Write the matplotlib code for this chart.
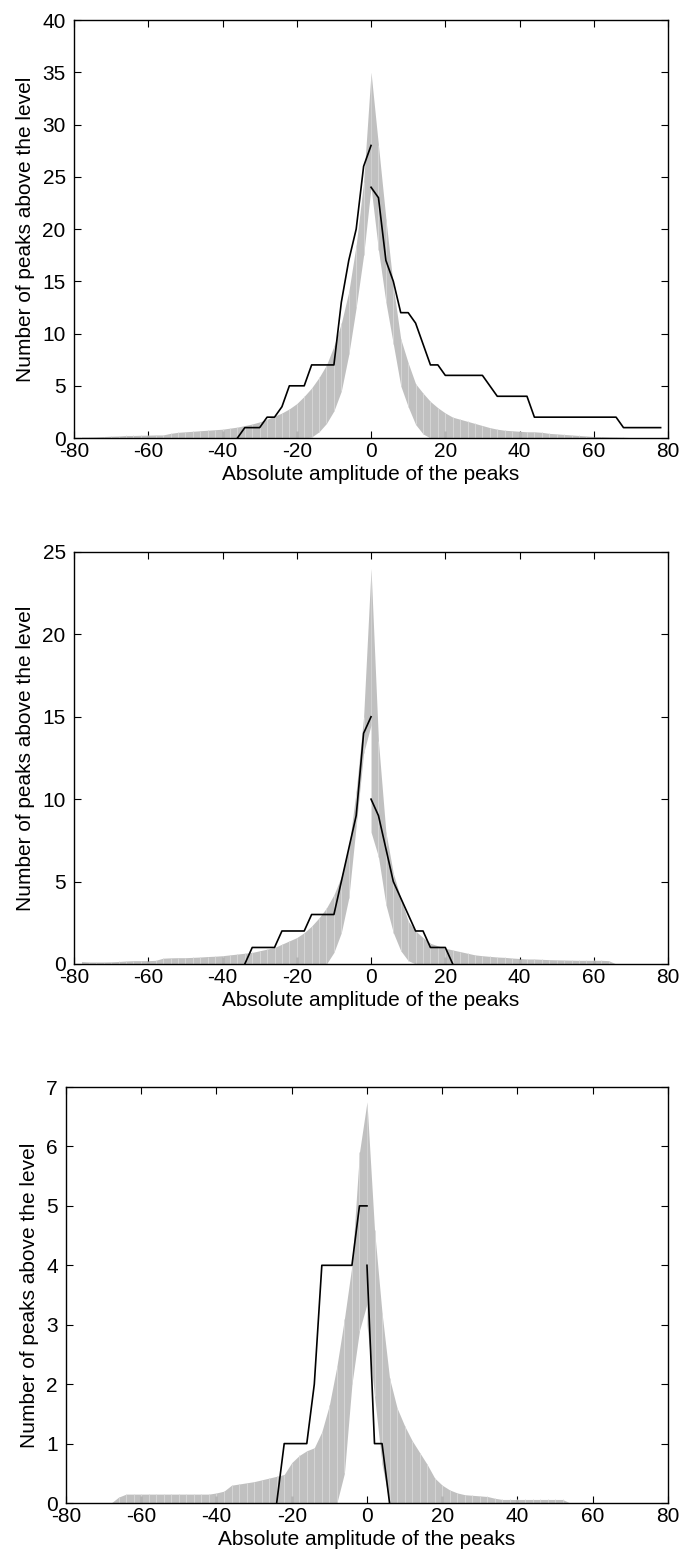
import numpy as np
import matplotlib
matplotlib.use("Agg")
from matplotlib import pyplot as plt

plt.rcParams['font.family'] = ['Liberation Sans', 'DejaVu Sans']
plt.rcParams['axes.unicode_minus'] = False

# amplitude grid of the envelopes (left side ends at 0, right side starts at 0)
x_neg = np.arange(-78, 1, 2)
x_pos = np.arange(0, 79, 2)

# panel 1 envelopes
p1_neg_up = [0.1, 0.1, 0.12, 0.15, 0.18, 0.2, 0.25, 0.25, 0.27, 0.28,
             0.3, 0.3, 0.45, 0.55, 0.6, 0.65, 0.7, 0.75, 0.8, 0.85,
             0.95, 1.05, 1.2, 1.35, 1.55, 1.8, 2.1, 2.4, 2.8, 3.3,
             4.0, 4.8, 5.8, 7.0, 8.8, 11.0, 14.0, 18.5, 24.5, 35.0]
p1_neg_lo = [0]*31 + [0.1, 0.6, 1.4, 2.6, 4.5, 8.0, 12.5, 17.5, 24.0]
p1_pos_up = [35, 28, 21, 14.5, 9.5, 7.2, 5.2, 4.3, 3.5, 2.9,
             2.4, 2.0, 1.8, 1.6, 1.4, 1.2, 1.0, 0.85, 0.75, 0.7,
             0.65, 0.6, 0.6, 0.55, 0.45, 0.4, 0.35, 0.3, 0.25, 0.2,
             0.15, 0.15, 0.12, 0.1, 0.08, 0.05, 0.03, 0.0, 0.0, 0.05]
p1_pos_lo = [24, 18, 13, 9, 5, 3, 1.3, 0.4] + [0]*32

# panel 1 observed counts
p1_neg_x = [-36, -34, -30, -28, -26, -24, -22, -18, -16, -10, -8, -6, -4, -2, 0]
p1_neg_y = [0, 1, 1, 2, 2, 3, 5, 5, 7, 7, 13, 17, 20, 26, 28]
p1_pos_x = [0, 2, 4, 6, 8, 10, 12, 16, 18, 20, 30, 34, 42, 44, 66, 68, 78]
p1_pos_y = [24, 23, 17, 15, 12, 12, 11, 7, 7, 6, 6, 4, 4, 2, 2, 1, 1]

# panel 2 envelopes
p2_neg_up = [0.15, 0.12, 0.12, 0.12, 0.13, 0.15, 0.18, 0.2, 0.2, 0.2,
             0.22, 0.35, 0.37, 0.38, 0.38, 0.4, 0.42, 0.45, 0.47, 0.5,
             0.55, 0.6, 0.65, 0.7, 0.8, 0.9, 1.0, 1.2, 1.4, 1.6,
             1.9, 2.3, 2.8, 3.4, 4.2, 5.3, 7.0, 10.5, 15.0, 24.0]
p2_neg_lo = [0]*34 + [0.7, 1.9, 4.0, 8.4, 12.8, 14.5]
p2_pos_up = [24, 13.5, 8, 5.5, 4.0, 2.6, 2.0, 1.6, 1.25, 1.1,
             0.95, 0.85, 0.75, 0.65, 0.55, 0.5, 0.46, 0.42, 0.4, 0.36,
             0.33, 0.3, 0.3, 0.28, 0.26, 0.25, 0.24, 0.23, 0.22, 0.22,
             0.22, 0.22, 0.2, 0, 0, 0, 0, 0, 0, 0]
p2_pos_lo = [8, 6.5, 3.6, 1.9, 0.8, 0.2] + [0]*34

p2_neg_x = [-34, -32, -26, -24, -18, -16, -10, -8, -6, -4, -2, 0]
p2_neg_y = [0, 1, 1, 2, 2, 3, 3, 5, 7, 9, 14, 15]
p2_pos_x = [0, 2, 6, 12, 14, 16, 20, 22]
p2_pos_y = [10, 9, 5, 2, 2, 1, 1, 0]

# panel 3 envelopes
p3_neg_up = [0, 0, 0, 0, 0, 0, 0.1, 0.15] + [0.15]*11 + \
            [0.17, 0.2, 0.3, 0.32, 0.34, 0.36, 0.39, 0.42, 0.45, 0.48,
             0.68, 0.8, 0.88, 0.93, 1.2, 1.65, 2.3, 3.1, 4.0, 5.9, 6.75]
p3_neg_lo = [0]*36 + [0.5, 2.0, 2.9, 3.35]
p3_pos_up = [6.75, 4.6, 3.2, 2.1, 1.6, 1.3, 1.05, 0.85, 0.65, 0.42,
             0.3, 0.22, 0.17, 0.14, 0.13, 0.12, 0.11, 0.08] + [0.06]*9 + [0]*13
p3_pos_lo = [3.0, 1.8, 0.65] + [0]*37

p3_neg_x = [-24, -22, -16, -14, -12, -4, -2, 0]
p3_neg_y = [0, 1, 1, 2, 4, 4, 5, 5]
p3_pos_x = [0, 2, 4, 6]
p3_pos_y = [4, 1, 1, 0]

panels = [
    (p1_neg_up, p1_neg_lo, p1_pos_up, p1_pos_lo, p1_neg_x, p1_neg_y, p1_pos_x, p1_pos_y,
     40, np.arange(0, 41, 5), [0.1076, 0.7181, 0.8634, 0.2690]),
    (p2_neg_up, p2_neg_lo, p2_pos_up, p2_pos_lo, p2_neg_x, p2_neg_y, p2_pos_x, p2_pos_y,
     25, np.arange(0, 26, 5), [0.1076, 0.3797, 0.8634, 0.2651]),
    (p3_neg_up, p3_neg_lo, p3_pos_up, p3_pos_lo, p3_neg_x, p3_neg_y, p3_pos_x, p3_pos_y,
     7, np.arange(0, 8, 1), [0.0959, 0.0328, 0.8750, 0.2677]),
]

fig = plt.figure(figsize=(6.88, 15.54), dpi=100)

for (nu, nl, pu, pl, bnx, bny, bpx, bpy, ymax, yticks, pos) in panels:
    ax = fig.add_axes(pos)
    for xs, up, lo in [(x_neg, nu, nl), (x_pos, pu, pl)]:
        ax.fill_between(xs, lo, up, color='#c0c0c0', linewidth=0)
        ax.vlines(xs[1:-1], np.array(lo)[1:-1], np.array(up)[1:-1],
                  colors='#d8d8d8', linewidth=0.6)
    ax.plot(bnx, bny, color='black', linewidth=1.2)
    ax.plot(bpx, bpy, color='black', linewidth=1.2)
    ax.set_xlim(-80, 80)
    ax.set_ylim(0, ymax)
    ax.set_xticks(np.arange(-80, 81, 20))
    ax.set_yticks(yticks)
    ax.tick_params(direction='in', length=5, width=0.8, top=True, right=True,
                   labelsize=15)
    ax.tick_params(axis='x', pad=3)
    ax.tick_params(axis='y', pad=6)
    for s in ax.spines.values():
        s.set_linewidth(1.0)
    ax.set_xlabel('Absolute amplitude of the peaks', fontsize=15, labelpad=3)
    ax.set_ylabel('Number of peaks above the level', fontsize=15, labelpad=5)

fig.savefig('out.png', dpi=100)
